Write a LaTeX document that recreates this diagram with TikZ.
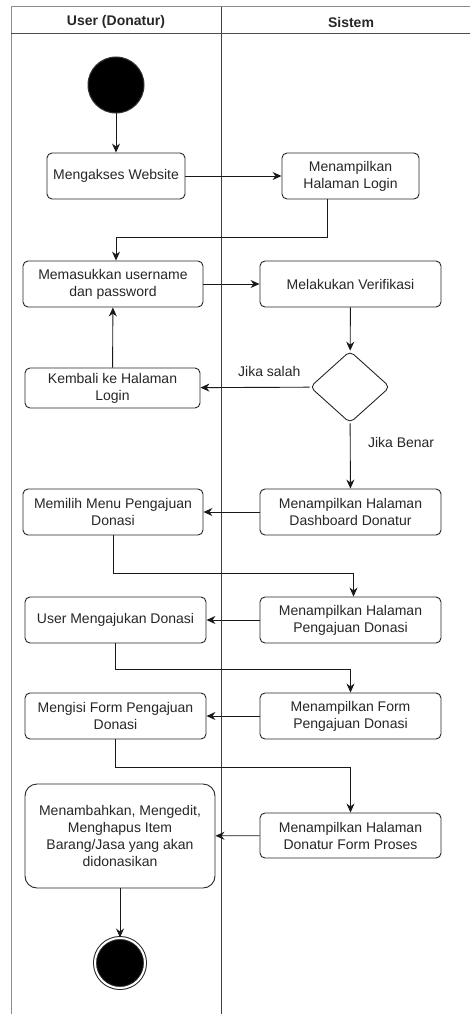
\documentclass[tikz,border=0pt]{standalone}
\usepackage{fontspec}
\setmainfont{Liberation Sans}
\usetikzlibrary{arrows.meta,shapes.geometric}

\begin{document}
\begin{tikzpicture}[x=1pt,y=-1pt,
    font=\fontsize{14}{17}\selectfont,
    act/.style={draw=black!85,rounded corners=5pt,line width=0.9pt,align=center,
        minimum height=46pt,text=black!85,inner sep=2pt},
    flow/.style={-{Stealth[length=9pt,width=8pt]},line width=0.9pt,black!90},
    lane/.style={line width=1pt}]
    \useasboundingbox (0,0) rectangle (470,1014);
    \draw[lane,black!45] (11,1014) -- (11,7) -- (470,7);
    \draw[lane,black!70] (11,34) -- (470,34);
    \draw[lane,black!75] (221,7) -- (221,1014);
    \node[font=\fontsize{14}{17}\selectfont\bfseries,text=black!85] (lanea) at (116,22) {User (Donatur)};
    \node[font=\fontsize{14}{17}\selectfont\bfseries,text=black!85] (laneb) at (351,22) {Sistem};

    \node[circle,fill=black,draw=black!80,line width=1pt,minimum size=56pt] (start) at (116,85) {};
    \node[act,minimum width=138pt] (web) at (116,176) {Mengakses Website};
    \node[act,minimum width=137pt] (login) at (350.5,176) {Menampilkan\\Halaman Login};
    \node[act,minimum width=180pt] (input) at (113,284) {Memasukkan username\\dan password};
    \node[act,minimum width=181pt] (verif) at (350.5,284) {Melakukan Verifikasi};
    \node[diamond,draw=black!85,line width=0.9pt,rounded corners=5pt,minimum width=80pt,
        minimum height=72pt,inner sep=0pt] (cek) at (350,387) {};
    \node[act,minimum width=175pt,minimum height=40pt] (back) at (112.5,388) {Kembali ke Halaman\\Login};
    \node[act,minimum width=181pt] (dash) at (350.5,512) {Menampilkan Halaman\\Dashboard Donatur};
    \node[act,minimum width=180pt] (menu) at (113,512) {Memilih Menu Pengajuan\\Donasi};
    \node[act,minimum width=181pt] (page) at (350.5,620) {Menampilkan Halaman\\Pengajuan Donasi};
    \node[act,minimum width=181pt] (ajukan) at (115.5,620) {User Mengajukan Donasi};
    \node[act,minimum width=181pt] (form) at (350.5,716) {Menampilkan Form\\Pengajuan Donasi};
    \node[act,minimum width=181pt] (isi) at (115.5,716) {Mengisi Form Pengajuan\\Donasi};
    \node[act,minimum width=181pt,minimum height=45pt] (proses) at (350.5,835.5) {Menampilkan Halaman\\Donatur Form Proses};
    \node[act,minimum width=190pt,minimum height=104pt,rounded corners=12pt] (tambah) at (120,836)
        {Menambahkan, Mengedit,\\Menghapus Item\\Barang/Jasa yang akan\\didonasikan};
    \node[circle,fill=black,draw=black!85,line width=1pt,double=white,double distance=2pt,
        minimum size=50pt] (end) at (120,963) {};

    \draw[flow] (start) -- (web);
    \draw[flow] (web) -- (login);
    \draw[flow] ([xshift=-23pt]login.south) -- ++(0,38) -| ([xshift=3pt]input.north);
    \draw[flow] (input) -- (verif);
    \draw[flow] (verif) -- (cek);
    \draw[flow] (cek) -- node[above=7pt,pos=0.37,text=black!85] {Jika salah} (back);
    \draw[flow] (back) -- (input);
    \draw[flow] (cek) -- node[right=14pt,pos=0.3,text=black!85] {Jika Benar} (dash);
    \draw[flow] (dash) -- (menu);
    \draw[flow] (menu.south) -- ++(0,38) -| ([xshift=3pt]page.north);
    \draw[flow] (page) -- (ajukan);
    \draw[flow] (ajukan.south) -- ++(0,26) -| (form.north);
    \draw[flow] (form) -- (isi);
    \draw[flow] (isi.south) -- ++(0,28) -| (proses.north);
    \draw[flow] (proses) -- (tambah);
    \draw[flow] (tambah) -- (end);
\end{tikzpicture}
\end{document}
